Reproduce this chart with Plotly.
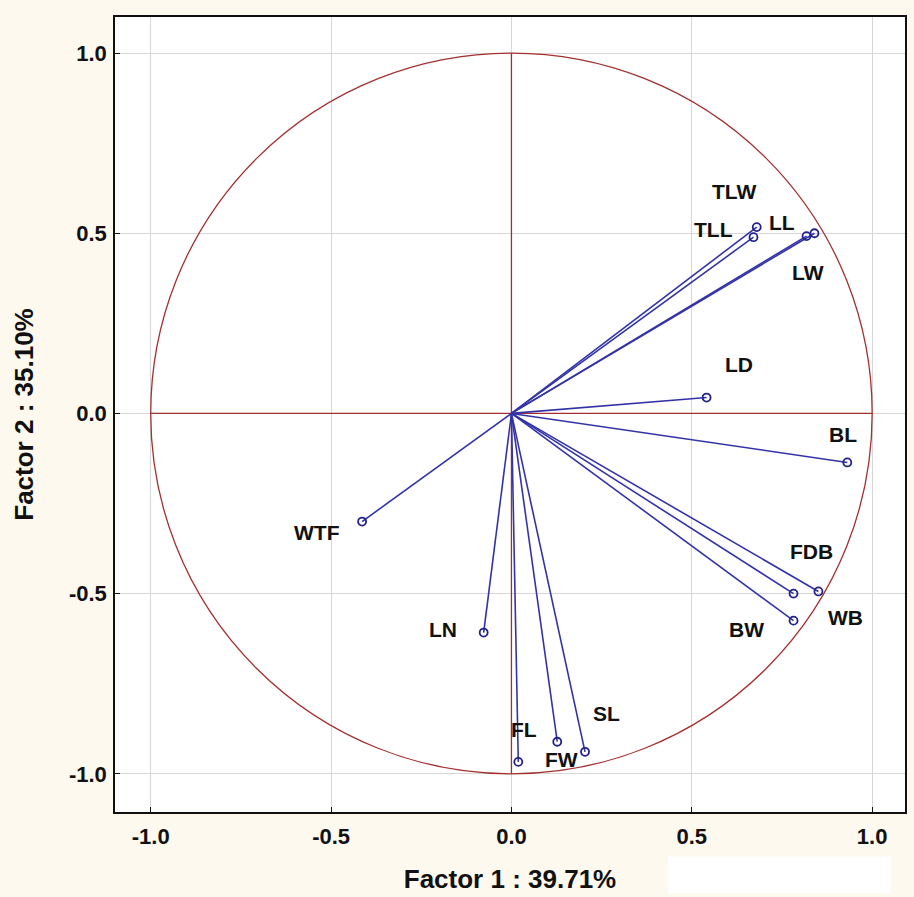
import plotly.graph_objects as go

# Loadings
variables = ["TLW", "TLL", "LL", "LW", "LD", "BL", "FDB", "WB", "BW", "WTF", "LN", "FL", "FW", "SL"]
factor1 = [0.680, 0.671, 0.818, 0.840, 0.541, 0.931, 0.782, 0.851, 0.782, -0.414, -0.077, 0.019, 0.127, 0.204]
factor2 = [0.517, 0.489, 0.492, 0.500, 0.044, -0.136, -0.500, -0.494, -0.575, -0.300, -0.608, -0.967, -0.911, -0.939]
tick_vals = [-1.0, -0.5, 0.0, 0.5, 1.0]
tick_text = ["-1.0", "-0.5", "0.0", "0.5", "1.0"]

# label pixel offsets (style)
label_shift = {
    "TLW": (-23, 36), "TLL": (-40, 8), "LL": (-25, 14), "LW": (-6, -39),
    "LD": (32, 33), "BL": (-4, 28), "FDB": (18, 42), "WB": (27, -26),
    "BW": (-47, -9), "WTF": (-45, -11), "LN": (-41, 3), "FL": (6, 32),
    "FW": (4, -18), "SL": (21, 38),
}

RED = "#a3302f"
BLUE = "#3333a8"
MARK = "#22228a"
FONT = "Liberation Sans, Arial, sans-serif"

fig = go.Figure()

for name, x, y in zip(variables, factor1, factor2):
    fig.add_trace(go.Scatter(x=[0, x], y=[0, y], mode="lines",
                             line=dict(color=BLUE, width=1.6),
                             hoverinfo="skip", showlegend=False))

fig.add_trace(go.Scatter(x=factor1, y=factor2, mode="markers", text=variables,
                         marker=dict(symbol="circle-open", size=8, color=MARK,
                                     line=dict(width=1.8, color=MARK)),
                         showlegend=False))

shapes = [
    dict(type="circle", xref="x", yref="y", x0=-1, y0=-1, x1=1, y1=1,
         line=dict(color=RED, width=1.3), layer="between"),
    dict(type="line", xref="x", yref="y", x0=-1, y0=0, x1=1, y1=0,
         line=dict(color=RED, width=1.3), layer="between"),
    dict(type="line", xref="x", yref="y", x0=0, y0=-1, x1=0, y1=1,
         line=dict(color=RED, width=1.3), layer="between"),
    # pale white patch in the bottom-right margin of the original
    dict(type="rect", xref="paper", yref="paper", x0=0.70, x1=0.982, y0=-0.102, y1=-0.056,
         line=dict(width=0), fillcolor="white", layer="below"),
]

annotations = []
for name, x, y in zip(variables, factor1, factor2):
    dx, dy = label_shift[name]
    annotations.append(dict(x=x, y=y, xref="x", yref="y", text=name, showarrow=False,
                            xshift=dx, yshift=dy,
                            font=dict(family=FONT, size=21, color="#111111", weight="bold")))

fig.update_layout(
    width=914, height=897,
    margin=dict(l=115, r=7, t=17, b=85),
    paper_bgcolor="#fdf9ee", plot_bgcolor="white",
    shapes=shapes, annotations=annotations,
    font=dict(family=FONT, size=21, color="#111111", weight="bold"),
)
axis_common = dict(tickvals=tick_vals, ticktext=tick_text, showgrid=True,
                   gridcolor="#d6d6d6", gridwidth=1, zeroline=False,
                   showline=True, linecolor="#111111", linewidth=1.5, mirror=True,
                   ticks="inside", ticklen=5, tickcolor="#111111",
                   tickfont=dict(family=FONT, size=22, color="#111111", weight="bold"))
fig.update_xaxes(range=[-1.099, 1.091], ticklabelstandoff=4,
                 title=dict(text="Factor 1 : 39.71%", standoff=22,
                            font=dict(family=FONT, size=26, weight="bold")), **axis_common)
fig.update_yaxes(range=[-1.106, 1.10], ticklabelstandoff=2,
                 title=dict(text="Factor 2 : 35.10%", standoff=28,
                            font=dict(family=FONT, size=26, weight="bold")), **axis_common)

fig.write_html("out.html", config={"displayModeBar": False})

with open("out.html", "r", encoding="utf-8") as f:
    html = f.read()
html = html.replace("<head>", "<head><style>html,body{margin:0;padding:0;background:#fdf9ee;}</style>", 1)
with open("out.html", "w", encoding="utf-8") as f:
    f.write(html)
